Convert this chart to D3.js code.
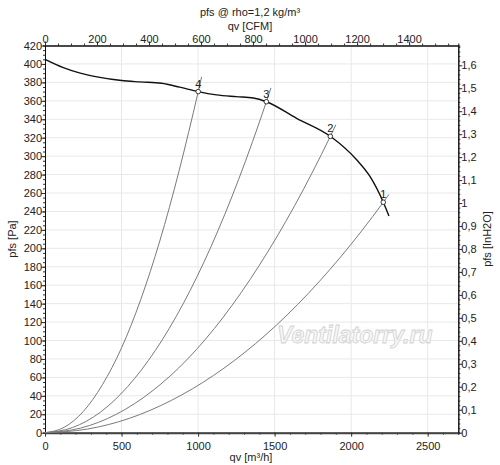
<!DOCTYPE html>
<html>
<head>
<meta charset="utf-8">
<script src="https://cdn.jsdelivr.net/npm/d3@7"></script>
<style>
  body { margin: 0; background: #fff; }
  text { font-family: "Liberation Sans", Arial, sans-serif; fill: #222; }
  .tick text { font-size: 11px; }
</style>
</head>
<body>
<div id="chart"></div>
<script>
// fan curve (qv m3/h, pfs Pa)
var fanQ = [0, 120, 230, 340, 500, 620, 762, 880, 1001, 1120, 1250, 1361, 1446, 1644, 1864, 2036, 2123, 2210, 2247];
var fanP = [405, 396, 390, 386, 382, 380.5, 379, 374.8, 370, 366.5, 364.5, 363, 359, 341, 321.5, 296, 278, 250, 235];

// operating points
var pointNames = ["1", "2", "3", "4"];
var pointQ = [2210, 1864, 1446, 1001];
var pointP = [250, 321.5, 359, 370];

// system curves, a few points per curve
var sys1Q = [0, 276, 550, 825, 1100, 1650, 2210, 2247];
var sys1P = [0, 3.9, 15.5, 35, 62, 139, 250, 258.5];
var sys2Q = [0, 233, 466, 699, 932, 1398, 1864, 1900];
var sys2P = [0, 5, 20, 45, 80, 181, 321.5, 334];
var sys3Q = [0, 180, 360, 540, 720, 1085, 1446, 1476];
var sys3P = [0, 5.6, 22, 50, 89, 202, 359, 374];
var sys4Q = [0, 125, 250, 375, 500, 750, 1001, 1023];
var sys4P = [0, 5.8, 23, 52, 92, 208, 370, 386];

var xTicks = [0, 500, 1000, 1500, 2000, 2500];
var yTicks = d3.range(0, 421, 20);
var cfmTicks = [0, 200, 400, 600, 800, 1000, 1200, 1400];
var inTicks = d3.range(0, 1.61, 0.1);

var width = 500, height = 465;
var plotL = 45, plotR = 458.3, plotT = 45.5, plotB = 432.7;
var cfm = 1.699;   // m3/h per CFM
var paIn = 249.1;  // Pa per inH2O

var svg = d3.select("#chart").append("svg")
  .attr("width", width)
  .attr("height", height);

var x = d3.scaleLinear().domain([0, 2700]).range([plotL, plotR]);
var y = d3.scaleLinear().domain([0, 420]).range([plotB, plotT]);
var xc = d3.scaleLinear().domain([0, 2700 / cfm]).range([plotL, plotR]);
var yi = d3.scaleLinear().domain([0, 420 / paIn]).range([plotB, plotT]);

var fmt = function(d) { return String(+d.toFixed(1)).replace(".", ","); };

// grid
var grid = svg.append("g");
grid.selectAll(".gx").data(xTicks.slice(1)).enter().append("line")
  .attr("x1", d => x(d)).attr("x2", d => x(d))
  .attr("y1", plotT).attr("y2", plotB)
  .attr("stroke", "#e8e8e8");
grid.selectAll(".gy").data(yTicks.slice(1)).enter().append("line")
  .attr("x1", plotL).attr("x2", plotR)
  .attr("y1", d => y(d)).attr("y2", d => y(d))
  .attr("stroke", "#e8e8e8");

// watermark
svg.append("text")
  .attr("x", 277).attr("y", 343)
  .style("font-size", "23px")
  .style("font-style", "italic")
  .style("font-weight", "bold")
  .style("fill", "#f6f6f6")
  .style("stroke", "#d2d2d2")
  .style("stroke-width", 0.8)
  .text("Ventilatorry.ru");

// minor ticks helper
function minor(axisFn, scale, step, max, size) {
  return axisFn(scale).tickValues(d3.range(0, max + 1e-9, step)).tickSize(size).tickFormat("");
}

var bottomMinor = svg.append("g").attr("transform", `translate(0,${plotB})`)
  .call(minor(d3.axisBottom, x, 100, 2700, 2));
var bottomAxis = svg.append("g").attr("transform", `translate(0,${plotB})`)
  .call(d3.axisBottom(x).tickValues(xTicks).tickFormat(d3.format("d")).tickSize(4).tickSizeOuter(0));

var leftMinor = svg.append("g").attr("transform", `translate(${plotL},0)`)
  .call(minor(d3.axisLeft, y, 5, 420, 2));
var leftAxis = svg.append("g").attr("transform", `translate(${plotL},0)`)
  .call(d3.axisLeft(y).tickValues(yTicks).tickFormat(d3.format("d")).tickSize(4).tickSizeOuter(0));

var topMinor = svg.append("g").attr("transform", `translate(0,${plotT})`)
  .call(minor(d3.axisTop, xc, 50, 1589, 2));
var topAxis = svg.append("g").attr("transform", `translate(0,${plotT})`)
  .call(d3.axisTop(xc).tickValues(cfmTicks).tickFormat(d3.format("d")).tickSize(4).tickSizeOuter(0));

var rightMinor = svg.append("g").attr("transform", `translate(${plotR},0)`)
  .call(minor(d3.axisRight, yi, 0.02, 1.686, 2));
var rightAxis = svg.append("g").attr("transform", `translate(${plotR},0)`)
  .call(d3.axisRight(yi).tickValues(inTicks).tickFormat(fmt).tickSize(4).tickSizeOuter(0));

svg.selectAll(".domain").attr("stroke", "#111");
svg.selectAll(".tick line").attr("stroke", "#333");
bottomAxis.select(".domain").attr("stroke-width", 2).attr("stroke", "#444");
bottomAxis.selectAll("text").attr("dy", "0.9em");
leftAxis.selectAll("text").attr("x", -3);
rightAxis.selectAll("text").attr("x", 3);
topAxis.selectAll("text").attr("y", -3);

// axis titles
svg.append("text").attr("x", 250).attr("y", 16).attr("text-anchor", "middle")
  .style("font-size", "11px").text("pfs @ rho=1,2 kg/m³");
svg.append("text").attr("x", 250).attr("y", 30).attr("text-anchor", "middle")
  .style("font-size", "11px").text("qv [CFM]");
svg.append("text").attr("x", 251).attr("y", 461).attr("text-anchor", "middle")
  .style("font-size", "11px").text("qv [m³/h]");
svg.append("text").attr("transform", "translate(16,239) rotate(-90)").attr("text-anchor", "middle")
  .style("font-size", "11px").text("pfs [Pa]");
svg.append("text").attr("transform", "translate(491,239) rotate(-90)").attr("text-anchor", "middle")
  .style("font-size", "11px").text("pfs [InH2O]");

// system curves
var sysLine = d3.line().x(d => x(d[0])).y(d => y(d[1])).curve(d3.curveMonotoneX);
var systems = [[sys1Q, sys1P], [sys2Q, sys2P], [sys3Q, sys3P], [sys4Q, sys4P]];
systems.forEach(function(s) {
  svg.append("path")
    .datum(d3.zip(s[0], s[1]))
    .attr("d", sysLine)
    .attr("fill", "none")
    .attr("stroke", "#7a7a7a")
    .attr("stroke-width", 1);
});

// fan curve
svg.append("path")
  .datum(d3.zip(fanQ, fanP))
  .attr("d", d3.line().x(d => x(d[0])).y(d => y(d[1])).curve(d3.curveMonotoneX))
  .attr("fill", "none")
  .attr("stroke", "#111")
  .attr("stroke-width", 1.4);

// operating points
var pts = d3.range(pointNames.length).map(i => ({ n: pointNames[i], q: pointQ[i], p: pointP[i] }));
svg.selectAll(".op").data(pts).enter().append("circle")
  .attr("cx", d => x(d.q)).attr("cy", d => y(d.p)).attr("r", 2.3)
  .attr("fill", "#fff").attr("stroke", "#222").attr("stroke-width", 0.9);
svg.selectAll(".opl").data(pts).enter().append("text")
  .attr("x", d => x(d.q)).attr("y", d => y(d.p) - 4)
  .attr("text-anchor", "middle")
  .style("font-size", "11px")
  .text(d => d.n);
</script>
</body>
</html>
